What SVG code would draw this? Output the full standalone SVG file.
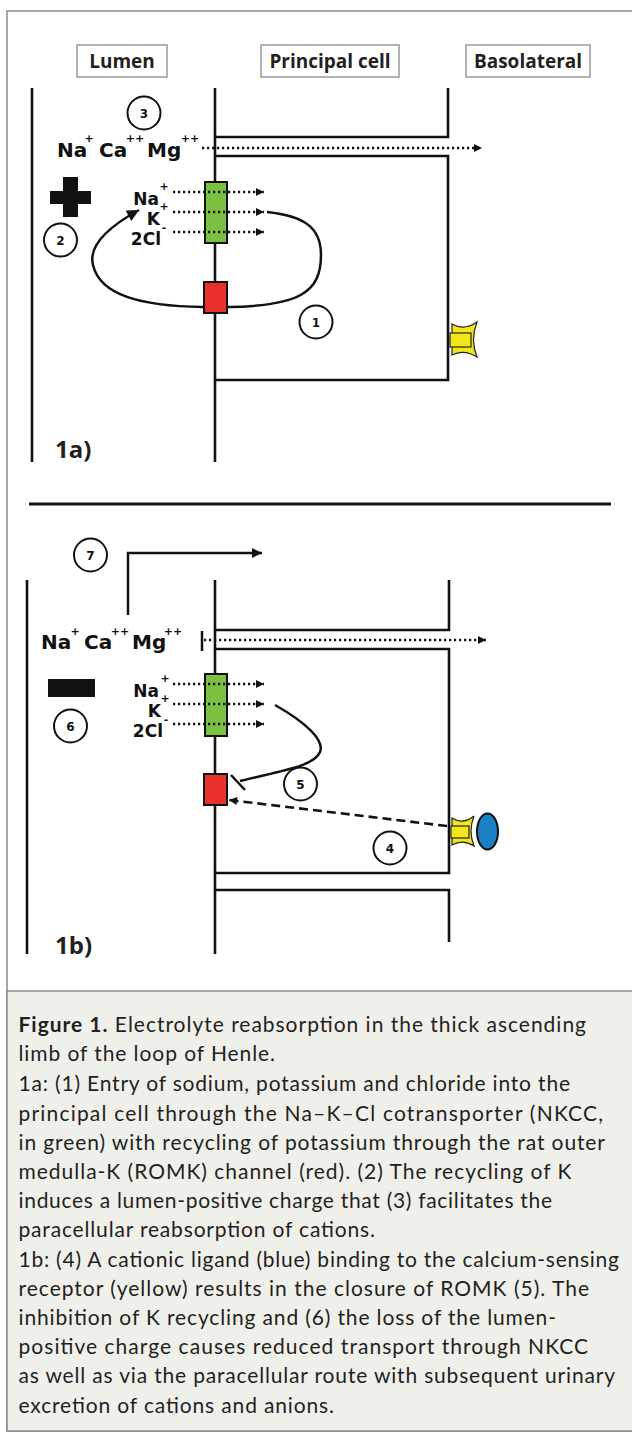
<svg xmlns="http://www.w3.org/2000/svg" width="632" height="1432" viewBox="0 0 632 1432">
<style>
.mem{fill:none;stroke:#111;stroke-width:2.6;stroke-linecap:butt;stroke-linejoin:miter}
.hdr rect{fill:#fff;stroke:#8a8a8a;stroke-width:1.3}
.hdr text{font-family:"Open Sans","Liberation Sans",sans-serif;font-weight:bold;font-size:19px;fill:#231f20;text-anchor:middle}
.ion{font-family:"DejaVu Sans","Liberation Sans",sans-serif;font-weight:bold;font-size:20px;fill:#111}
.ions{font-family:"DejaVu Sans","Liberation Sans",sans-serif;font-weight:bold;font-size:17px;fill:#111;text-anchor:end}
.sup{font-family:"DejaVu Sans","Liberation Sans",sans-serif;font-weight:bold;font-size:11px;fill:#111;text-anchor:middle}
.num circle{fill:#fff;stroke:#111;stroke-width:2}
.num text{font-family:"DejaVu Sans","Liberation Sans",sans-serif;font-weight:bold;font-size:12px;fill:#111;text-anchor:middle}
.dot{fill:none;stroke:#111;stroke-width:2.3;stroke-dasharray:2.2 2.8}
.dash{fill:none;stroke:#111;stroke-width:2.6;stroke-dasharray:9 5}
.solid{fill:none;stroke:#111;stroke-width:2.5}
.nkcc{fill:#7cc142;stroke:#111;stroke-width:2}
.romk{fill:#e8312a;stroke:#111;stroke-width:2}
.rec{fill:#f2e51b;stroke:#222;stroke-width:1.2}
.panel{font-family:"Open Sans","Liberation Sans",sans-serif;font-weight:bold;font-size:24px;fill:#231f20}
.cap{font-family:Lato,"Open Sans","Liberation Sans",sans-serif;font-size:21px;fill:#231f20}
</style>
<defs>
<marker id="ahs" viewBox="0 0 10 10" refX="10" refY="5" markerWidth="9" markerHeight="8" markerUnits="userSpaceOnUse" orient="auto"><path d="M0,0 L10,5 L0,10 z" fill="#111"/></marker>
<marker id="ahl" viewBox="0 0 10 10" refX="10" refY="5" markerWidth="14" markerHeight="12" markerUnits="userSpaceOnUse" orient="auto"><path d="M0,0 L10,5 L0,10 z" fill="#111"/></marker>
<marker id="ahm" viewBox="0 0 10 10" refX="10" refY="5" markerWidth="11" markerHeight="10" markerUnits="userSpaceOnUse" orient="auto"><path d="M0,0 L10,5 L0,10 z" fill="#111"/></marker>
</defs>

<!-- frame and caption background -->
<rect x="7" y="11" width="640" height="1420" fill="#fff" stroke="#8a8a8a" stroke-width="1.5"/>
<rect x="7" y="991" width="640" height="440" fill="#f0f0eb" stroke="#8a8a8a" stroke-width="1.5"/>

<!-- headers -->
<g id="hdr-lumen" class="hdr"><rect x="77" y="45" width="90" height="32"/><text x="122" y="68">Lumen</text></g>
<g id="hdr-cell" class="hdr"><rect x="261" y="45" width="138" height="32"/><text x="330" y="68">Principal cell</text></g>
<g id="hdr-baso" class="hdr"><rect x="466" y="45" width="124" height="32"/><text x="528" y="68">Basolateral</text></g>

<!-- panel 1a membranes -->
<g id="membranes-1a" class="mem">
<line x1="32" y1="88" x2="32" y2="462"/>
<line x1="215" y1="88" x2="215" y2="462"/>
<polyline points="448,88 448,137 215,137"/>
<polyline points="215,156 448,156 448,380 215,380"/>
</g>

<!-- separator -->
<line x1="29" y1="504" x2="611" y2="504" stroke="#111" stroke-width="3"/>

<!-- panel 1b membranes -->
<g id="membranes-1b" class="mem">
<line x1="27" y1="580" x2="27" y2="954"/>
<line x1="215" y1="580" x2="215" y2="954"/>
<polyline points="449,580 449,630 215,630"/>
<polyline points="215,649 449,649 449,873 215,873"/>
<polyline points="215,890 449,890 449,942"/>
</g>

<!-- panel 1a nodes -->
<g id="ions-para-1a">
<text class="ion" x="57" y="157">Na</text><text class="sup" x="89" y="142">+</text>
<text class="ion" x="99" y="157">Ca</text><text class="sup" x="135" y="142">++</text>
<text class="ion" x="147" y="157">Mg</text><text class="sup" x="190" y="142">++</text>
</g>
<g id="ions-nkcc-1a">
<text class="ions" x="159" y="205">Na</text><text class="sup" x="164" y="190">+</text>
<text class="ions" x="160" y="225">K</text><text class="sup" x="164" y="210">+</text>
<text class="ions" x="161" y="245">2Cl</text><text class="sup" x="164" y="231">-</text>
</g>
<g id="plus-1a"><path d="M63,177 H78 V191 H91 V204 H78 V217 H63 V204 H50 V191 H63 Z" fill="#111"/></g>
<g id="nkcc-1a"><rect class="nkcc" x="205" y="182" width="22" height="61"/></g>
<g id="romk-1a"><rect class="romk" x="204" y="282" width="23" height="31"/></g>
<g id="casr-1a"><path class="rec" d="M452,324 Q464,331 477,322 Q470,340 477,357 Q464,349 452,355 Z"/><rect class="rec" x="450" y="333" width="21" height="14"/></g>
<g id="c3" class="num"><circle cx="144" cy="113" r="16.5"/><text x="144" y="117.5">3</text></g>
<g id="c2" class="num"><circle cx="60.5" cy="240" r="16.5"/><text x="60.5" y="244.5">2</text></g>
<g id="c1" class="num"><circle cx="316" cy="322" r="16.5"/><text x="316" y="326.5">1</text></g>
<g id="lbl-1a"><text class="panel" x="55" y="458">1a)</text></g>

<!-- panel 1b nodes -->
<g id="ions-para-1b">
<text class="ion" x="41" y="649">Na</text><text class="sup" x="75" y="635">+</text>
<text class="ion" x="84" y="649">Ca</text><text class="sup" x="120" y="635">++</text>
<text class="ion" x="132" y="649">Mg</text><text class="sup" x="173" y="635">++</text>
</g>
<g id="ions-nkcc-1b">
<text class="ions" x="159" y="697">Na</text><text class="sup" x="165" y="682">+</text>
<text class="ions" x="161" y="717">K</text><text class="sup" x="165" y="702">+</text>
<text class="ions" x="163" y="737">2Cl</text><text class="sup" x="166" y="723">-</text>
</g>
<g id="minus-1b"><rect x="48" y="679" width="47" height="18" fill="#111"/></g>
<g id="nkcc-1b"><rect class="nkcc" x="205" y="674" width="22" height="62"/></g>
<g id="romk-1b"><rect class="romk" x="204" y="774" width="23" height="31"/></g>
<g id="casr-1b"><path class="rec" d="M452,818 Q463,825 474,816 Q468,831 474,846 Q463,839 452,845 Z"/><rect class="rec" x="451" y="826" width="18" height="12"/></g>
<g id="ligand-1b"><ellipse cx="487.5" cy="831.5" rx="10.5" ry="18" fill="#1b7fc4" stroke="#111" stroke-width="2"/></g>
<g id="c7" class="num"><circle cx="90.5" cy="555" r="16.5"/><text x="90.5" y="559.5">7</text></g>
<g id="c6" class="num"><circle cx="70.5" cy="726" r="16.5"/><text x="70.5" y="730.5">6</text></g>
<g id="c5" class="num"><circle cx="300.5" cy="784" r="16.5"/><text x="300.5" y="788.5">5</text></g>
<g id="c4" class="num"><circle cx="390" cy="848" r="16.5"/><text x="390" y="852.5">4</text></g>
<g id="lbl-1b"><text class="panel" x="55" y="954">1b)</text></g>

<!-- connectors -->
<g id="connectors">
<line class="dot" x1="202" y1="148" x2="482" y2="148" marker-end="url(#ahs)"/>
<line class="dot" x1="173" y1="192" x2="264" y2="192" marker-end="url(#ahs)"/>
<line class="dot" x1="173" y1="212" x2="264" y2="212" marker-end="url(#ahs)"/>
<line class="dot" x1="173" y1="232" x2="264" y2="232" marker-end="url(#ahs)"/>
<path class="solid" d="M267,212 C305,216 321,228 321,255 C321,292 300,306 228,307"/>
<path class="solid" d="M203,307 C140,306 100,295 93,265 C88,245 110,226 139,210" marker-end="url(#ahl)"/>

<line x1="202" y1="631" x2="202" y2="651" stroke="#111" stroke-width="2.5"/>
<line class="dot" x1="204" y1="640" x2="486" y2="640" marker-end="url(#ahs)"/>
<polyline class="solid" points="128,615 128,553 262,553" marker-end="url(#ahm)"/>
<line class="dot" x1="173" y1="684" x2="264" y2="684" marker-end="url(#ahs)"/>
<line class="dot" x1="173" y1="704" x2="264" y2="704" marker-end="url(#ahs)"/>
<line class="dot" x1="173" y1="724" x2="264" y2="724" marker-end="url(#ahs)"/>
<path class="solid" d="M275,705 C305,722 325,740 320,752 C314,766 285,770 240,781"/>
<line x1="231" y1="775" x2="245" y2="790" stroke="#111" stroke-width="2.5"/>
<line class="dash" x1="447" y1="826" x2="229" y2="800" marker-end="url(#ahs)"/>
</g>

<!-- caption -->
<g id="caption" class="cap">
<text x="18.5" y="1032" textLength="567.5" lengthAdjust="spacing"><tspan font-weight="bold">Figure 1.</tspan> Electrolyte reabsorption in the thick ascending</text>
<text x="18.5" y="1061" textLength="256.5" lengthAdjust="spacing">limb of the loop of Henle.</text>
<text x="18.5" y="1091" textLength="551.5" lengthAdjust="spacing">1a: (1) Entry of sodium, potassium and chloride into the</text>
<text x="18.5" y="1121" textLength="584.5" lengthAdjust="spacing">principal cell through the Na–K–Cl cotransporter (NKCC,</text>
<text x="18.5" y="1150" textLength="586.5" lengthAdjust="spacing">in green) with recycling of potassium through the rat outer</text>
<text x="18.5" y="1179" textLength="553" lengthAdjust="spacing">medulla-K (ROMK) channel (red). (2) The recycling of K</text>
<text x="18.5" y="1208" textLength="533.5" lengthAdjust="spacing">induces a lumen-positive charge that (3) facilitates the</text>
<text x="18.5" y="1237" textLength="356.5" lengthAdjust="spacing">paracellular reabsorption of cations.</text>
<text x="18.5" y="1267" textLength="600.5" lengthAdjust="spacing">1b: (4) A cationic ligand (blue) binding to the calcium-sensing</text>
<text x="18.5" y="1296" textLength="570.5" lengthAdjust="spacing">receptor (yellow) results in the closure of ROMK (5). The</text>
<text x="18.5" y="1325" textLength="537.5" lengthAdjust="spacing">inhibition of K recycling and (6) the loss of the lumen-</text>
<text x="18.5" y="1354" textLength="569.5" lengthAdjust="spacing">positive charge causes reduced transport through NKCC</text>
<text x="18.5" y="1383" textLength="596.5" lengthAdjust="spacing">as well as via the paracellular route with subsequent urinary</text>
<text x="18.5" y="1413" textLength="315.5" lengthAdjust="spacing">excretion of cations and anions.</text>
</g>
</svg>
